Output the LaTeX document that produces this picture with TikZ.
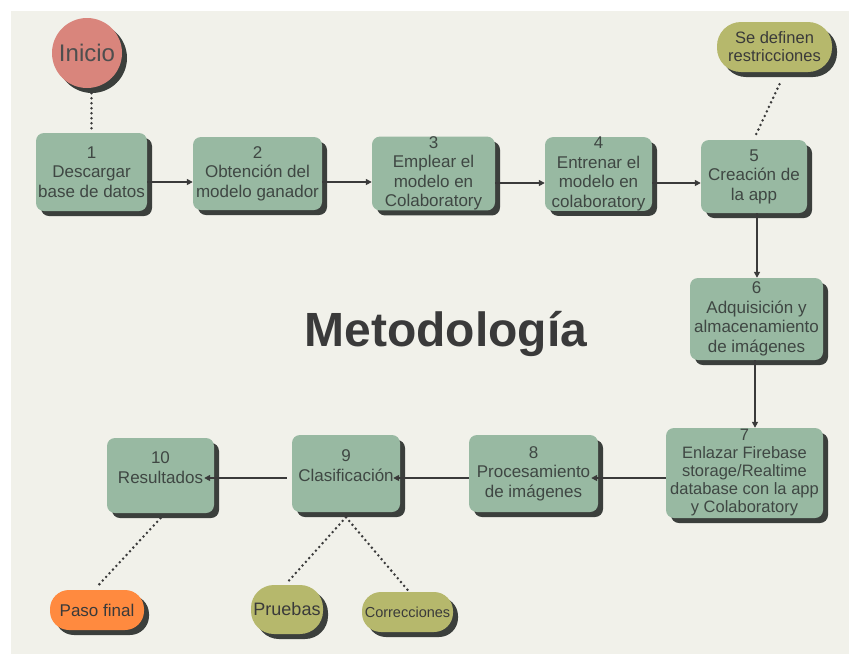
\documentclass[tikz,border=0pt]{standalone}
\usepackage{fontspec}
\setmainfont{Liberation Sans}
\usetikzlibrary{arrows.meta,shadows,shapes.geometric}
\definecolor{bgc}{HTML}{F1F1EA}
\definecolor{boxc}{HTML}{98B9A2}
\definecolor{shc}{HTML}{3B3F3C}
\definecolor{txc}{HTML}{3F4743}
\definecolor{salmon}{HTML}{D9857C}
\definecolor{olive}{HTML}{B6B86C}
\definecolor{orangec}{HTML}{FF8A3F}
\definecolor{linec}{HTML}{3A3A3A}
\begin{document}
\begin{tikzpicture}[x=1pt,y=-1pt,
  shad/.style={drop shadow={shadow xshift=5pt,shadow yshift=-5pt,fill=shc,opacity=1}},
  stepbox/.style={shad,fill=boxc,rounded corners=8pt,inner sep=0pt,align=center,text=txc,font=\fontsize{17}{19.5}\selectfont},
  steptext/.style={align=center,text=txc,inner sep=0pt,font=\fontsize{17}{19.5}\selectfont},
  pill/.style={shad,rounded corners=#1,inner sep=0pt,align=center,text=linec},
  arr/.style={draw=linec,line width=1.5pt,-{Triangle[length=6pt,width=6pt]}},
  dots/.style={draw=linec,line width=2.8pt,line cap=round,dash pattern=on 0pt off 5pt}]
\useasboundingbox (0,0) rectangle (849,654);
\fill[white] (0,0) rectangle (849,654);
\fill[bgc] (11,11) rectangle (849,654);

% step boxes
\node[stepbox,minimum width=111pt,minimum height=78pt] (b1) at (91.5,172) {1\\Descargar\\base de datos};
\node[stepbox,minimum width=129pt,minimum height=73pt] (b2) at (257.5,173.5) {2\\Obtención del\\modelo ganador};
\node[stepbox,minimum width=123pt,minimum height=73pt] (b3) at (433.5,173.5) {3\\Emplear el\\modelo en\\Colaboratory};
\node[stepbox,minimum width=107pt,minimum height=72pt] (b4) at (598.5,174) {4\\Entrenar el\\modelo en\\colaboratory};
\node[stepbox,minimum width=106pt,minimum height=73pt] (b5) at (754,176.5) {5\\Creación de\\la app};
\node[stepbox,minimum width=133pt,minimum height=82pt] (b6) at (756.5,319) {6\\Adquisición y\\almacenamiento\\de imágenes};
\node[stepbox,minimum width=157pt,minimum height=90pt,font=\fontsize{16.5}{18}\selectfont] (b7) at (744.5,473) {7\\Enlazar Firebase\\storage/Realtime\\database con la app\\y Colaboratory};
\node[stepbox,minimum width=129pt,minimum height=77pt] (b8) at (533.5,473.5) {8\\Procesamiento\\de imágenes};
\node[stepbox,minimum width=108pt,minimum height=77pt] (b9) at (346,473.5) {};
\node[steptext] (t9) at ([yshift=8pt]b9.center) {9\\Clasificación};
\node[stepbox,minimum width=107pt,minimum height=75pt] (b10) at (160.5,475.5) {};
\node[steptext] (t10) at ([yshift=8pt]b10.center) {10\\Resultados};

% ovals
\node[circle,shad,fill=salmon,minimum size=70pt,inner sep=0pt,text=linec!90,font=\fontsize{24}{28}\selectfont] (ini) at (87,53) {Inicio};
\node[pill=24pt,fill=olive,minimum width=115pt,minimum height=50pt,font=\fontsize{16.5}{18}\selectfont] (sdr) at (774.5,47) {Se definen\\restricciones};
\node[pill=19pt,fill=orangec,minimum width=94pt,minimum height=40pt,font=\fontsize{17}{20}\selectfont] (pf) at (97,610) {Paso final};
\node[pill=23pt,fill=olive,minimum width=72pt,minimum height=49pt,font=\fontsize{18}{20}\selectfont] (pru) at (287,609.5) {Pruebas};
\node[pill=19pt,fill=olive,minimum width=91pt,minimum height=40pt,font=\fontsize{14.5}{17}\selectfont] (cor) at (407.5,612) {Correcciones};

% title
\node[font=\bfseries\fontsize{48}{50}\selectfont,text=linec,anchor=base] (title) at (446,346) {Metodología};

% dotted links
\draw[dots] ([yshift=-5pt]b1.north |- ini.south) -- ([yshift=3pt]b1.north);
\draw[dots] ([xshift=5pt,yshift=-12pt]sdr.south) -- ([xshift=1pt,yshift=3pt]b5.north);
\draw[dots] ([yshift=-5pt]b10.south) -- ([yshift=3pt]pf.north);
\draw[dots] ([yshift=-5pt]b9.south) -- ([yshift=2pt]pru.north);
\draw[dots] ([yshift=-5pt]b9.south) -- ([yshift=2pt]cor.north);

% arrows
\coordinate (ya) at (0,182);
\coordinate (yb) at (0,183);
\coordinate (yc) at (0,478);
\coordinate (xa) at (757,0);
\coordinate (xb) at (755,0);
\draw[arr] (b1.east |- ya) -- (b2.west |- ya);
\draw[arr] (b2.east |- ya) -- (b3.west |- ya);
\draw[arr] (b3.east |- yb) -- (b4.west |- yb);
\draw[arr] (b4.east |- yb) -- (b5.west |- yb);
\draw[arr] (b5.south -| xa) -- (b6.north -| xa);
\draw[arr] (b6.south -| xb) -- (b7.north -| xb);
\draw[arr,shorten >=-7pt] (b7.west |- yc) -- (b8.east |- yc);
\draw[arr,shorten >=-7pt] (b8.west |- yc) -- (b9.east |- yc);
\draw[arr,shorten <=5pt,shorten >=-10pt] (b9.west |- yc) -- (b10.east |- yc);
\end{tikzpicture}
\end{document}
